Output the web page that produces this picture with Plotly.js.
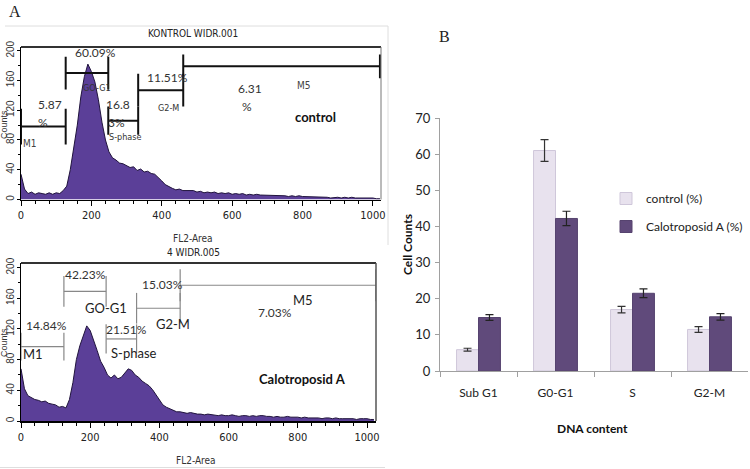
<!DOCTYPE html>
<html>
<head>
<meta charset="utf-8">
<script src="https://cdn.plot.ly/plotly-3.0.1.min.js"></script>
<style>html,body{margin:0;padding:0;background:#fff;}#chart{width:750px;height:469px;}</style>
</head>
<body>
<div id="chart"></div>
<script>
// ---------- DATA ----------
// FL2-Area channel (bin positions) for both histograms
const binsX = [0,10,20,30,40,50,60,70,80,90,100,110,120,130,140,150,160,170,180,190,200,210,220,230,240,250,260,270,280,290,300,310,320,330,340,350,360,370,380,390,400,410,420,430,440,450,460,470,480,490,500,510,520,530,540,550,560,570,580,590,600,610,620,630,640,650,660,670,680,690,700,710,720,730,740,750,760,770,780,790,800,810,820,830,840,850,860,870,880,890,900,910,920,930,940,950,960,970,980,990,1000,1010,1020];
// Counts, control (KONTROL WIDR.001)
const controlCounts = [34,14,8,10,7,9,8,7,9,7,9,8,12,18,40,70,100,138,165,182,172,158,134,104,80,64,56,53,49,48,45,43,44,39,41,37,38,35,34,30,25,20,17,15,13,14,12,12,11,12,10,11,9,10,9,10,8,9,8,9,7,8,7,8,6,7,6,7,6,6,5,6,5,6,5,5,4,5,4,5,4,4,3,4,3,4,3,3,2,3,3,2,3,2,3,2,2,3,2,2,2,1,1];
// Counts, Calotroposid A (4 WIDR.005)
const treatedCounts = [68,42,33,30,28,27,25,26,23,22,21,18,19,17,28,50,80,98,112,124,118,106,92,78,70,60,56,60,55,57,62,68,66,60,57,52,49,46,41,34,28,21,18,16,14,12,12,11,10,11,10,9,9,8,9,8,8,7,8,7,7,8,7,6,7,7,6,7,6,7,7,6,6,5,6,5,5,6,5,5,5,4,5,4,4,4,4,3,4,4,3,4,3,3,3,3,3,2,3,3,3,2,2];

// Gate markers (M1, G0-G1, S-phase, G2-M, M5): start, end, level, end-bar half height
const gateNames = ["M1","G0-G1","S-phase","G2-M","M5"];
const topGateStart = [0,127,248,333,461];
const topGateEnd   = [127,248,333,461,1020];
const topGateLevel = [98,170,106,147,179];
const topGateHalf  = [24,22,19,22,16];
const botGateStart = [0,124,246,334,460];
const botGateEnd   = [124,246,334,460,1026];
const botGateLevel = [97,169,107,147,177];
const botGateHalf  = [18,20,19,20,21];

// Panel B
const categories = ["Sub G1","G0-G1","S","G2-M"];
const controlPct = [5.9,61.0,17.0,11.5];
const controlErr = [0.4,3.0,0.9,0.8];
const treatedPct = [14.8,42.2,21.5,15.0];
const treatedErr = [0.8,2.0,1.2,0.9];
const seriesNames = ["control (%)","Calotroposid A (%)"];

// ---------- HELPERS ----------
const W = 750, H = 469;
const px = x => x / W;
const py = y => 1 - y / H;
const NARROW = "Liberation Sans Narrow, DejaVu Sans Condensed, Arial Narrow, sans-serif";
const CAL = "Lato, Carlito, Calibri, sans-serif";

function gatePath(st, en, lv, hf) {
  const xs = [], ys = [];
  for (let i = 0; i < st.length; i++) {
    xs.push(st[i], st[i], null, st[i], en[i], null, en[i], en[i], null);
    ys.push(lv[i] - hf[i], lv[i] + hf[i], null, lv[i], lv[i], null, lv[i] - hf[i], lv[i] + hf[i], null);
  }
  return {xs, ys};
}
const gTop = gatePath(topGateStart, topGateEnd, topGateLevel, topGateHalf);
const gBot = gatePath(botGateStart, botGateEnd, botGateLevel, botGateHalf);

const histFill = "#5b3f98";
const histLine = "#21143d";

const traces = [
  {x: binsX, y: controlCounts, type: "scatter", mode: "lines", fill: "tozeroy",
   fillcolor: histFill, line: {color: histLine, width: 1}, xaxis: "x", yaxis: "y",
   showlegend: false, hoverinfo: "skip"},
  {x: binsX, y: treatedCounts, type: "scatter", mode: "lines", fill: "tozeroy",
   fillcolor: histFill, line: {color: histLine, width: 1}, xaxis: "x2", yaxis: "y2",
   showlegend: false, hoverinfo: "skip"},
  {x: gTop.xs, y: gTop.ys, type: "scatter", mode: "lines", line: {color: "#111", width: 2},
   xaxis: "x", yaxis: "y", showlegend: false, hoverinfo: "skip", connectgaps: false},
  {x: gBot.xs, y: gBot.ys, type: "scatter", mode: "lines", line: {color: "#888", width: 1.2},
   xaxis: "x2", yaxis: "y2", showlegend: false, hoverinfo: "skip", connectgaps: false},
  {x: categories, y: controlPct, type: "bar", name: seriesNames[0], xaxis: "x3", yaxis: "y3",
   marker: {color: "#E8E2EE", line: {color: "#CFC7DA", width: 1}},
   error_y: {type: "data", array: controlErr, visible: true, color: "#333", thickness: 1.2, width: 4},
   legendgroup: "a"},
  {x: categories, y: treatedPct, type: "bar", name: seriesNames[1], xaxis: "x3", yaxis: "y3",
   marker: {color: "#604A7B", line: {color: "#56436F", width: 1}},
   error_y: {type: "data", array: treatedErr, visible: true, color: "#222", thickness: 1.2, width: 4},
   legendgroup: "b"}
];

const histX = (dom, rng, anchor) => ({
  domain: dom, range: rng, anchor: anchor, showgrid: false, zeroline: false,
  showline: true, linecolor: "#000", linewidth: 1.5,
  tick0: 0, dtick: 200, ticks: "outside", ticklen: 5, tickcolor: "#000",
  minor: {dtick: 40, ticks: "outside", ticklen: 3, tickcolor: "#000"},
  tickfont: {family: NARROW, size: 11, color: "#222"}
});
const histY = (dom, rng, anchor) => ({
  domain: dom, range: rng, anchor: anchor, showgrid: false, zeroline: false,
  showline: true, linecolor: "#000", linewidth: 1,
  tick0: 0, dtick: 40, ticks: "outside", ticklen: 3, tickcolor: "#000",
  minor: {dtick: 20, ticks: "outside", ticklen: 2, tickcolor: "#000"},
  ticklabelstandoff: -1,
  tickangle: -90, tickfont: {family: "Liberation Sans, Arial, sans-serif", size: 10, color: "#333"}
});

function ann(text, x, y, font, extra) {
  return Object.assign({text: text, x: px(x), y: py(y), xref: "paper", yref: "paper",
    showarrow: false, xanchor: "center", yanchor: "middle", font: font}, extra || {});
}
const fPct = {family: CAL, size: 12, color: "#333"};
const fSmall = {family: NARROW, size: 9, color: "#333"};
const fBot = {family: CAL, size: 13, color: "#222"};
const fCounts = {family: "Liberation Sans, Arial, sans-serif", size: 9, color: "#333"};

const annotations = [
  ann("A", 15, 12, {family: "Liberation Serif, serif", size: 16, color: "#222"}),
  ann("B", 444, 36, {family: "Liberation Serif, serif", size: 16, color: "#222"}),
  // top histogram
  ann("KONTROL WIDR.001", 193, 33, {family: NARROW, size: 10, color: "#222"}),
  ann("Counts", 4, 125, fCounts, {textangle: -90}),
  ann("FL2-Area", 193, 238, {family: NARROW, size: 10, color: "#333"}),
  ann("60.09%", 95, 52, fPct),
  ann("GO-G1", 97, 88, fSmall),
  ann("5.87", 50, 104, fPct),
  ann("%", 43, 122, fPct),
  ann("M1", 30, 143, {family: NARROW, size: 10, color: "#444"}),
  ann("16.8", 118, 104, fPct),
  ann("3%", 116, 122, fPct),
  ann("S-phase", 125, 137, fSmall),
  ann("11.51%", 167, 78, fPct),
  ann("G2-M", 168, 108, fSmall),
  ann("6.31", 250, 88, fPct),
  ann("%", 247, 107, fPct),
  ann("M5", 304, 85, {family: NARROW, size: 10, color: "#444"}),
  ann("<b>control</b>", 315, 117, {family: CAL, size: 13, color: "#111"}),
  // bottom histogram
  ann("4 WIDR.005", 193, 252, {family: NARROW, size: 10, color: "#222"}),
  ann("Counts", 4, 343, fCounts, {textangle: -90}),
  ann("FL2-Area", 196, 460, {family: NARROW, size: 10, color: "#333"}),
  ann("42.23%", 85, 274, fPct),
  ann("GO-G1", 106, 308, fBot),
  ann("14.84%", 46, 325, fPct),
  ann("M1", 33, 354, fBot),
  ann("21.51%", 126, 329, fPct),
  ann("S-phase", 134, 353, fBot),
  ann("15.03%", 162, 284, fPct),
  ann("G2-M", 173, 324, fBot),
  ann("7.03%", 275, 312, fPct),
  ann("M5", 303, 300, fBot),
  ann("<b>Calotroposid A</b>", 302, 379, {family: CAL, size: 13, color: "#111"}),
  // panel B titles
  ann("<b>Cell Counts</b>", 408, 245, {family: CAL, size: 12, color: "#111"}, {textangle: -90}),
  ann("<b>DNA content</b>", 592, 428, {family: CAL, size: 12, color: "#111"})
];

const shapes = [
  // light outer frames of panel A
  {type: "line", xref: "paper", yref: "paper", x0: px(5), x1: px(388), y0: py(26), y1: py(26), line: {color: "#dedede", width: 1}},
  {type: "line", xref: "paper", yref: "paper", x0: px(388), x1: px(388), y0: py(26), y1: py(245), line: {color: "#dedede", width: 1}},
  {type: "line", xref: "paper", yref: "paper", x0: px(0), x1: px(385), y0: py(467.5), y1: py(467.5), line: {color: "#dedede", width: 1}},
  // plot boxes
  {type: "line", xref: "x domain", yref: "y domain", x0: 0, x1: 1, y0: 1, y1: 1, line: {color: "#333", width: 2}},
  {type: "line", xref: "x domain", yref: "y domain", x0: 1, x1: 1, y0: 0, y1: 1, line: {color: "#777", width: 1}},
  {type: "line", xref: "x2 domain", yref: "y2 domain", x0: 0, x1: 1, y0: 1, y1: 1, line: {color: "#333", width: 2}},
  {type: "line", xref: "x2 domain", yref: "y2 domain", x0: 1, x1: 1, y0: 0, y1: 1, line: {color: "#555", width: 1.5}}
];

const layout = {
  width: W, height: H, margin: {l: 0, r: 0, t: 0, b: 0},
  paper_bgcolor: "#fff", plot_bgcolor: "#fff",
  showlegend: true,
  barmode: "group", bargap: 0.43, bargroupgap: 0,
  xaxis: histX([px(21), px(381)], [0, 1023], "y"),
  yaxis: histY([py(199.5), py(47)], [0, 205], "x"),
  xaxis2: histX([px(21), px(376)], [0, 1026], "y2"),
  yaxis2: histY([py(421), py(263)], [0, 206], "x2"),
  xaxis3: {domain: [px(440), px(748)], anchor: "y3", type: "category",
    showline: true, linecolor: "#a0a0a0", linewidth: 1, showgrid: false, zeroline: false,
    ticks: "outside", tickson: "boundaries", ticklen: 5, tickcolor: "#a0a0a0",
    ticklabelstandoff: 11,
    tickfont: {family: CAL, size: 12, color: "#222"}},
  yaxis3: {domain: [py(371), py(118)], anchor: "x3", range: [0, 70], dtick: 10,
    showline: true, linecolor: "#a0a0a0", linewidth: 1, showgrid: false, zeroline: false,
    ticks: "outside", ticklen: 4, tickcolor: "#a0a0a0", ticklabelstandoff: 2,
    tickfont: {family: CAL, size: 13, color: "#222"}},
  legend: {x: px(606), y: py(184), xanchor: "left", yanchor: "top",
    font: {family: CAL, size: 12, color: "#222"}, bgcolor: "rgba(0,0,0,0)",
    tracegroupgap: 9, traceorder: "grouped"},
  annotations: annotations,
  shapes: shapes
};

Plotly.newPlot("chart", traces, layout, {staticPlot: true, displayModeBar: false});
</script>
</body>
</html>
